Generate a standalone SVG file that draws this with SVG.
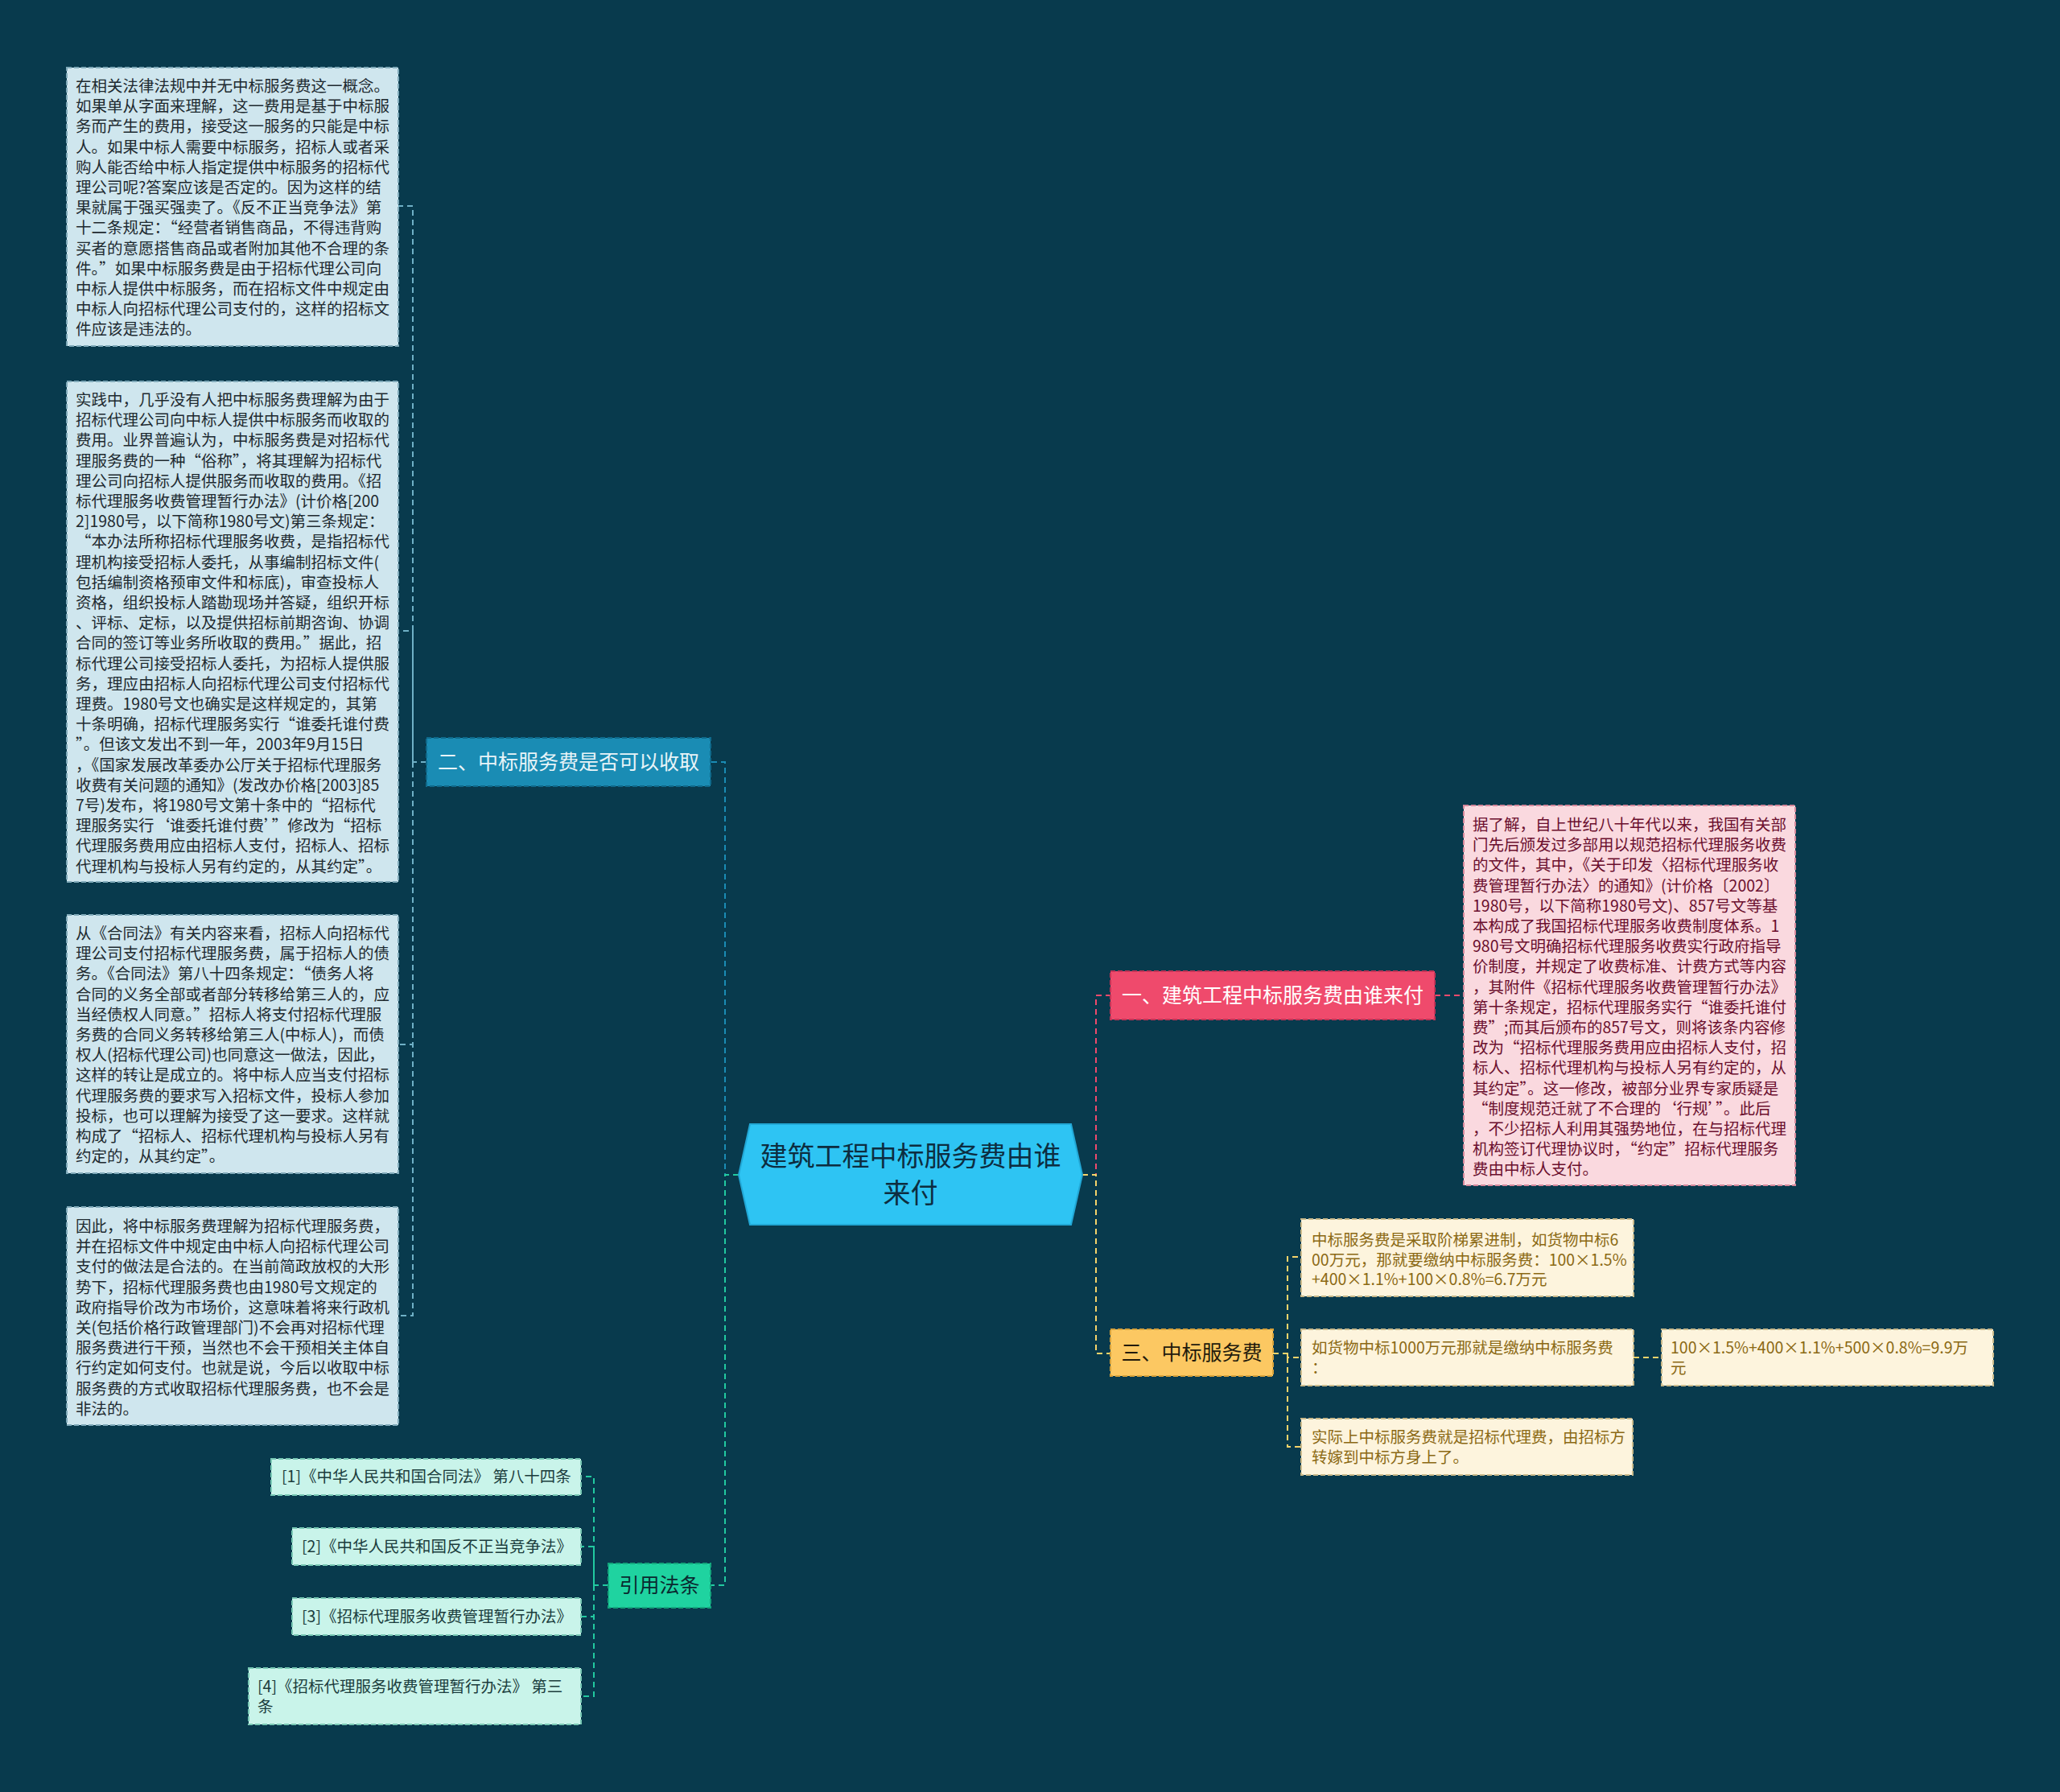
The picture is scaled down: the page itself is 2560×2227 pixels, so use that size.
<svg xmlns="http://www.w3.org/2000/svg" width="2560" height="2227" viewBox="0 0 2560 2227">
<style>
text{font-family:"Noto Sans CJK SC","Noto Sans",sans-serif;}
.con{fill:none;stroke-width:2;stroke-dasharray:7 5;}
.box{stroke-width:2;stroke-dasharray:6 3;}
.t{font-size:19.5px;}
.lb{fill:#cfe6ee;stroke:#7fa9b9;}
.lt{fill:#1e2a30;}
.pb{fill:#fad9df;stroke:#d5879a;}
.pt{fill:#6b0f2e;}
.yb{fill:#fdf4dd;stroke:#c9b98a;}
.yt{fill:#8b6914;}
.rb{fill:#c9f4ea;stroke:#78c8b4;}
.rt{fill:#1b3d3d;}
.br{font-size:25px;text-anchor:middle;}
</style>
<rect x="0" y="0" width="2560" height="2227" fill="#083a4d"/>

<g id="connectors">
<path class="con" stroke="#1a8cb4" d="M918,1460 H901 V947 H883"/>
<path class="con" stroke="#22c9a0" d="M918,1460 H901 V1970 H883"/>
<path class="con" stroke="#ef4a6c" d="M1345,1460 H1362 V1237 H1380"/>
<path class="con" stroke="#f5d36a" d="M1345,1460 H1362 V1682 H1380"/>
<path class="con" stroke="#6fb0c6" d="M530,947 H513 V256 H495 M513,947 V784 H495 M513,947 V1298 H495 M513,947 V1635 H495"/>
<path class="con" stroke="#ef4a6c" d="M1783,1237 H1819"/>
<path class="con" stroke="#f5d36a" d="M1582,1682 H1600 V1562 H1617 M1600,1682 V1687 H1617 M1600,1687 V1798 H1617"/>
<path class="con" stroke="#f5d36a" d="M2030,1687 H2065"/>
<path class="con" stroke="#22c9a0" d="M756,1970 H738 V1835 H722 M738,1970 V1922 H722 M738,1970 V2009 H722 M738,1970 V2108 H722"/>
</g>

<g id="center">
<polygon points="932,1397 1331,1397 1345,1460 1331,1522 932,1522 918,1460" fill="#2ec4f3" stroke="#22a8d6" stroke-width="2"/>
<text x="1131.5" y="1449" font-size="34" text-anchor="middle" fill="#0d2d40">建筑工程中标服务费由谁</text>
<text x="1131.5" y="1495" font-size="34" text-anchor="middle" fill="#0d2d40">来付</text>
</g>

<g id="branch2">
<rect class="box" x="530" y="917" width="353" height="60" fill="#1a8cb4" stroke="#0f6a8c"/>
<text class="br" x="706.5" y="956" fill="#e8f4f8">二、中标服务费是否可以收取</text>
</g>

<g id="branch1">
<rect class="box" x="1380" y="1207" width="403" height="60" fill="#ef4a6c" stroke="#c43356"/>
<text class="br" x="1581.5" y="1246" fill="#ffffff">一、建筑工程中标服务费由谁来付</text>
</g>

<g id="branch3">
<rect class="box" x="1380" y="1652" width="202" height="58" fill="#fcc862" stroke="#d8a23a"/>
<text class="br" x="1481" y="1690" fill="#221a0c">三、中标服务费</text>
</g>

<g id="branch4">
<rect class="box" x="756" y="1943" width="127" height="55" fill="#1fd3a0" stroke="#13a57c"/>
<text class="br" x="819.5" y="1979" fill="#0a2a30">引用法条</text>
</g>

<g id="text1">
<rect class="box lb" x="83" y="84" width="412" height="346"/>
<text class="t lt">
<tspan x="94" y="114">在相关法律法规中并无中标服务费这一概念。</tspan>
<tspan x="94" y="139.2">如果单从字面来理解，这一费用是基于中标服</tspan>
<tspan x="94" y="164.4">务而产生的费用，接受这一服务的只能是中标</tspan>
<tspan x="94" y="189.6">人。如果中标人需要中标服务，招标人或者采</tspan>
<tspan x="94" y="214.8">购人能否给中标人指定提供中标服务的招标代</tspan>
<tspan x="94" y="240">理公司呢?答案应该是否定的。因为这样的结</tspan>
<tspan x="94" y="265.2">果就属于强买强卖了。《反不正当竞争法》第</tspan>
<tspan x="94" y="290.4">十二条规定：“经营者销售商品，不得违背购</tspan>
<tspan x="94" y="315.6">买者的意愿搭售商品或者附加其他不合理的条</tspan>
<tspan x="94" y="340.8">件。”如果中标服务费是由于招标代理公司向</tspan>
<tspan x="94" y="366">中标人提供中标服务，而在招标文件中规定由</tspan>
<tspan x="94" y="391.2">中标人向招标代理公司支付的，这样的招标文</tspan>
<tspan x="94" y="416.4">件应该是违法的。</tspan>
</text>
</g>

<g id="text2">
<rect class="box lb" x="83" y="474" width="412" height="622"/>
<text class="t lt">
<tspan x="94" y="504">实践中，几乎没有人把中标服务费理解为由于</tspan>
<tspan x="94" y="529.2">招标代理公司向中标人提供中标服务而收取的</tspan>
<tspan x="94" y="554.4">费用。业界普遍认为，中标服务费是对招标代</tspan>
<tspan x="94" y="579.6">理服务费的一种“俗称”，将其理解为招标代</tspan>
<tspan x="94" y="604.8">理公司向招标人提供服务而收取的费用。《招</tspan>
<tspan x="94" y="630">标代理服务收费管理暂行办法》(计价格[200</tspan>
<tspan x="94" y="655.2">2]1980号，以下简称1980号文)第三条规定：</tspan>
<tspan x="94" y="680.4">“本办法所称招标代理服务收费，是指招标代</tspan>
<tspan x="94" y="705.6">理机构接受招标人委托，从事编制招标文件(</tspan>
<tspan x="94" y="730.8">包括编制资格预审文件和标底)，审查投标人</tspan>
<tspan x="94" y="756">资格，组织投标人踏勘现场并答疑，组织开标</tspan>
<tspan x="94" y="781.2">、评标、定标，以及提供招标前期咨询、协调</tspan>
<tspan x="94" y="806.4">合同的签订等业务所收取的费用。”据此，招</tspan>
<tspan x="94" y="831.6">标代理公司接受招标人委托，为招标人提供服</tspan>
<tspan x="94" y="856.8">务，理应由招标人向招标代理公司支付招标代</tspan>
<tspan x="94" y="882">理费。1980号文也确实是这样规定的，其第</tspan>
<tspan x="94" y="907.2">十条明确，招标代理服务实行“谁委托谁付费</tspan>
<tspan x="94" y="932.4">”。但该文发出不到一年，2003年9月15日</tspan>
<tspan x="94" y="957.6">，《国家发展改革委办公厅关于招标代理服务</tspan>
<tspan x="94" y="982.8">收费有关问题的通知》(发改办价格[2003]85</tspan>
<tspan x="94" y="1008">7号)发布，将1980号文第十条中的“招标代</tspan>
<tspan x="94" y="1033.2">理服务实行‘谁委托谁付费’”修改为“招标</tspan>
<tspan x="94" y="1058.4">代理服务费用应由招标人支付，招标人、招标</tspan>
<tspan x="94" y="1083.6">代理机构与投标人另有约定的，从其约定”。</tspan>
</text>
</g>

<g id="text3">
<rect class="box lb" x="83" y="1137" width="412" height="321"/>
<text class="t lt">
<tspan x="94" y="1167">从《合同法》有关内容来看，招标人向招标代</tspan>
<tspan x="94" y="1192.2">理公司支付招标代理服务费，属于招标人的债</tspan>
<tspan x="94" y="1217.4">务。《合同法》第八十四条规定：“债务人将</tspan>
<tspan x="94" y="1242.6">合同的义务全部或者部分转移给第三人的，应</tspan>
<tspan x="94" y="1267.8">当经债权人同意。”招标人将支付招标代理服</tspan>
<tspan x="94" y="1293">务费的合同义务转移给第三人(中标人)，而债</tspan>
<tspan x="94" y="1318.2">权人(招标代理公司)也同意这一做法，因此，</tspan>
<tspan x="94" y="1343.4">这样的转让是成立的。将中标人应当支付招标</tspan>
<tspan x="94" y="1368.6">代理服务费的要求写入招标文件，投标人参加</tspan>
<tspan x="94" y="1393.8">投标，也可以理解为接受了这一要求。这样就</tspan>
<tspan x="94" y="1419">构成了“招标人、招标代理机构与投标人另有</tspan>
<tspan x="94" y="1444.2">约定的，从其约定”。</tspan>
</text>
</g>

<g id="text4">
<rect class="box lb" x="83" y="1500" width="412" height="271"/>
<text class="t lt">
<tspan x="94" y="1531">因此，将中标服务费理解为招标代理服务费，</tspan>
<tspan x="94" y="1556.2">并在招标文件中规定由中标人向招标代理公司</tspan>
<tspan x="94" y="1581.4">支付的做法是合法的。在当前简政放权的大形</tspan>
<tspan x="94" y="1606.6">势下，招标代理服务费也由1980号文规定的</tspan>
<tspan x="94" y="1631.8">政府指导价改为市场价，这意味着将来行政机</tspan>
<tspan x="94" y="1657">关(包括价格行政管理部门)不会再对招标代理</tspan>
<tspan x="94" y="1682.2">服务费进行干预，当然也不会干预相关主体自</tspan>
<tspan x="94" y="1707.4">行约定如何支付。也就是说，今后以收取中标</tspan>
<tspan x="94" y="1732.6">服务费的方式收取招标代理服务费，也不会是</tspan>
<tspan x="94" y="1757.8">非法的。</tspan>
</text>
</g>

<g id="text-pink">
<rect class="box pb" x="1819" y="1001" width="412" height="472"/>
<text class="t pt">
<tspan x="1830" y="1032">据了解，自上世纪八十年代以来，我国有关部</tspan>
<tspan x="1830" y="1057.2">门先后颁发过多部用以规范招标代理服务收费</tspan>
<tspan x="1830" y="1082.4">的文件，其中，《关于印发〈招标代理服务收</tspan>
<tspan x="1830" y="1107.6">费管理暂行办法〉的通知》(计价格〔2002〕</tspan>
<tspan x="1830" y="1132.8">1980号，以下简称1980号文)、857号文等基</tspan>
<tspan x="1830" y="1158">本构成了我国招标代理服务收费制度体系。1</tspan>
<tspan x="1830" y="1183.2">980号文明确招标代理服务收费实行政府指导</tspan>
<tspan x="1830" y="1208.4">价制度，并规定了收费标准、计费方式等内容</tspan>
<tspan x="1830" y="1233.6">，其附件《招标代理服务收费管理暂行办法》</tspan>
<tspan x="1830" y="1258.8">第十条规定，招标代理服务实行“谁委托谁付</tspan>
<tspan x="1830" y="1284">费”;而其后颁布的857号文，则将该条内容修</tspan>
<tspan x="1830" y="1309.2">改为“招标代理服务费用应由招标人支付，招</tspan>
<tspan x="1830" y="1334.4">标人、招标代理机构与投标人另有约定的，从</tspan>
<tspan x="1830" y="1359.6">其约定”。这一修改，被部分业界专家质疑是</tspan>
<tspan x="1830" y="1384.8">“制度规范迁就了不合理的‘行规’”。此后</tspan>
<tspan x="1830" y="1410">，不少招标人利用其强势地位，在与招标代理</tspan>
<tspan x="1830" y="1435.2">机构签订代理协议时，“约定”招标代理服务</tspan>
<tspan x="1830" y="1460.4">费由中标人支付。</tspan>
</text>
</g>

<g id="fee-a">
<rect class="box yb" x="1617" y="1515" width="413" height="96"/>
<text class="t yt">
<tspan x="1630" y="1548">中标服务费是采取阶梯累进制，如货物中标6</tspan>
<tspan x="1630" y="1572.5">00万元，那就要缴纳中标服务费：100×1.5%</tspan>
<tspan x="1630" y="1597">+400×1.1%+100×0.8%=6.7万元</tspan>
</text>
</g>

<g id="fee-b">
<rect class="box yb" x="1617" y="1652" width="413" height="70"/>
<text class="t yt">
<tspan x="1630" y="1682">如货物中标1000万元那就是缴纳中标服务费</tspan>
<tspan x="1630" y="1707">：</tspan>
</text>
</g>

<g id="fee-c">
<rect class="box yb" x="2065" y="1652" width="412" height="70"/>
<text class="t yt">
<tspan x="2076" y="1682">100×1.5%+400×1.1%+500×0.8%=9.9万</tspan>
<tspan x="2076" y="1707">元</tspan>
</text>
</g>

<g id="fee-d">
<rect class="box yb" x="1617" y="1763" width="412" height="70"/>
<text class="t yt">
<tspan x="1630" y="1793">实际上中标服务费就是招标代理费，由招标方</tspan>
<tspan x="1630" y="1818">转嫁到中标方身上了。</tspan>
</text>
</g>

<g id="ref1">
<rect class="box rb" x="337" y="1813" width="385" height="45"/>
<text class="t rt" x="350" y="1842">[1]《中华人民共和国合同法》 第八十四条</text>
</g>
<g id="ref2">
<rect class="box rb" x="363" y="1899" width="359" height="46"/>
<text class="t rt" x="375" y="1929">[2]《中华人民共和国反不正当竞争法》</text>
</g>
<g id="ref3">
<rect class="box rb" x="363" y="1986" width="359" height="46"/>
<text class="t rt" x="375" y="2016">[3]《招标代理服务收费管理暂行办法》</text>
</g>
<g id="ref4">
<rect class="box rb" x="309" y="2073" width="413" height="70"/>
<text class="t rt">
<tspan x="320" y="2103">[4]《招标代理服务收费管理暂行办法》 第三</tspan>
<tspan x="320" y="2128">条</tspan>
</text>
</g>
</svg>
